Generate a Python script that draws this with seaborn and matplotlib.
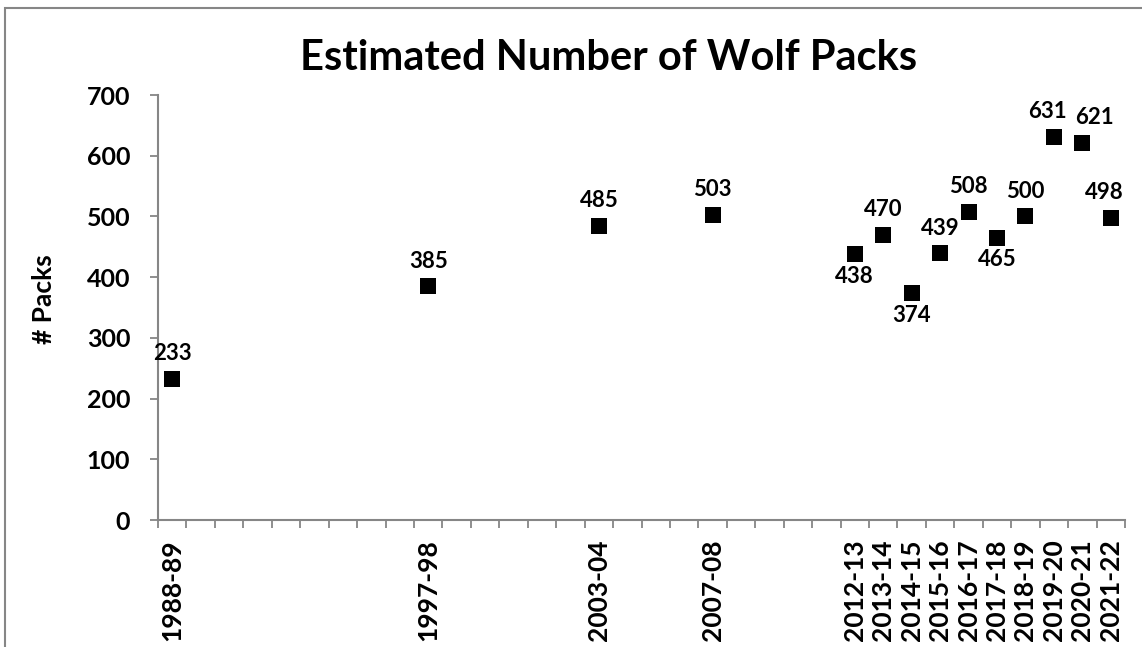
import matplotlib
matplotlib.use("Agg")
import matplotlib.pyplot as plt
import seaborn as sns
import pandas as pd
from matplotlib.patches import Rectangle
from matplotlib.ticker import FixedLocator

# every winter season on the axis (Excel category axis keeps the empty ones)
all_seasons = [
    "1988-89", "1989-90", "1990-91", "1991-92", "1992-93", "1993-94",
    "1994-95", "1995-96", "1996-97", "1997-98", "1998-99", "1999-00",
    "2000-01", "2001-02", "2002-03", "2003-04", "2004-05", "2005-06",
    "2006-07", "2007-08", "2008-09", "2009-10", "2010-11", "2011-12",
    "2012-13", "2013-14", "2014-15", "2015-16", "2016-17", "2017-18",
    "2018-19", "2019-20", "2020-21", "2021-22",
]

# seasons with an estimate
seasons = [
    "1988-89", "1997-98", "2003-04", "2007-08", "2012-13", "2013-14",
    "2014-15", "2015-16", "2016-17", "2017-18", "2018-19", "2019-20",
    "2020-21", "2021-22",
]
packs = [233, 385, 485, 503, 438, 470, 374, 439, 508, 465, 500, 631, 621, 498]
# where the data label sits relative to the marker
label_side = ["above", "above", "above", "above", "below", "above", "below",
              "above", "above", "below", "above", "above", "above", "above"]

df = pd.DataFrame({"season": seasons, "packs": packs})

sns.set_style("white")
plt.rcParams["font.family"] = ["Lato", "DejaVu Sans"]
plt.rcParams["font.weight"] = "bold"
plt.rcParams["text.color"] = "black"
plt.rcParams["xtick.color"] = "black"
plt.rcParams["ytick.color"] = "black"
plt.rcParams["axes.labelcolor"] = "black"

W, H = 1142, 647
fig = plt.figure(figsize=(W / 100, H / 100), dpi=100)
ax = fig.add_axes([158 / W, 1 - 520 / H, (1125 - 158) / W, (520 - 95) / H])

sns.stripplot(data=df, x="season", y="packs", order=all_seasons, jitter=False,
              marker="s", size=12, color="black", linewidth=0, ax=ax)

ax.set_xlim(-0.5, len(all_seasons) - 0.5)
ax.set_ylim(0, 700)

# data labels
pos = {s: i for i, s in enumerate(all_seasons)}
dx = {"2019-20": -5, "2020-21": 9, "2021-22": -5}
for s, v, side in zip(seasons, packs, label_side):
    dy = 18 if side == "above" else -16
    ax.annotate(str(v), (pos[s], v), xytext=(dx.get(s, 0), dy),
                textcoords="offset points", ha="center", va="center",
                fontsize=16, fontweight="bold", color="black")

# x axis: labels only where there is data, ticks at the category boundaries
ax.xaxis.set_major_locator(FixedLocator([pos[s] for s in seasons]))
ax.set_xticklabels(seasons, rotation=90, fontsize=19, fontweight="bold")
ax.xaxis.set_minor_locator(FixedLocator([i - 0.5 for i in range(len(all_seasons) + 1)]))
ax.tick_params(axis="x", which="major", length=0, pad=14)
ax.tick_params(axis="x", which="minor", length=6, width=1.3, color="#868686",
               direction="out", bottom=True)

ax.set_yticks(range(0, 701, 100))
ax.set_yticklabels([str(t) for t in range(0, 701, 100)], fontsize=18,
                   fontweight="bold")
ax.tick_params(axis="y", length=6, width=1.3, color="#868686", labelcolor="black",
               direction="out", left=True, pad=14)
ax.tick_params(axis="x", labelcolor="black")

for side in ["top", "right"]:
    ax.spines[side].set_visible(False)
for side in ["left", "bottom"]:
    ax.spines[side].set_color("#868686")
    ax.spines[side].set_linewidth(1.5)

ax.set_xlabel("")
ax.set_ylabel("# Packs", fontsize=19, fontweight="bold")
ax.yaxis.set_label_coords(-102 / (1125 - 158), 0.52)

fig.text(609 / W, 1 - 58 / H, "Estimated Number of Wolf Packs", ha="center",
         va="center", fontsize=30, fontweight="bold", color="black")

# chart area border, cropped at right and bottom
fig.patches.append(Rectangle((5 / W, -0.1), 1.2, 1.1 - 8 / H,
                             transform=fig.transFigure, fill=False,
                             edgecolor="#868686", linewidth=1.5))

fig.savefig("out.png", dpi=100)
